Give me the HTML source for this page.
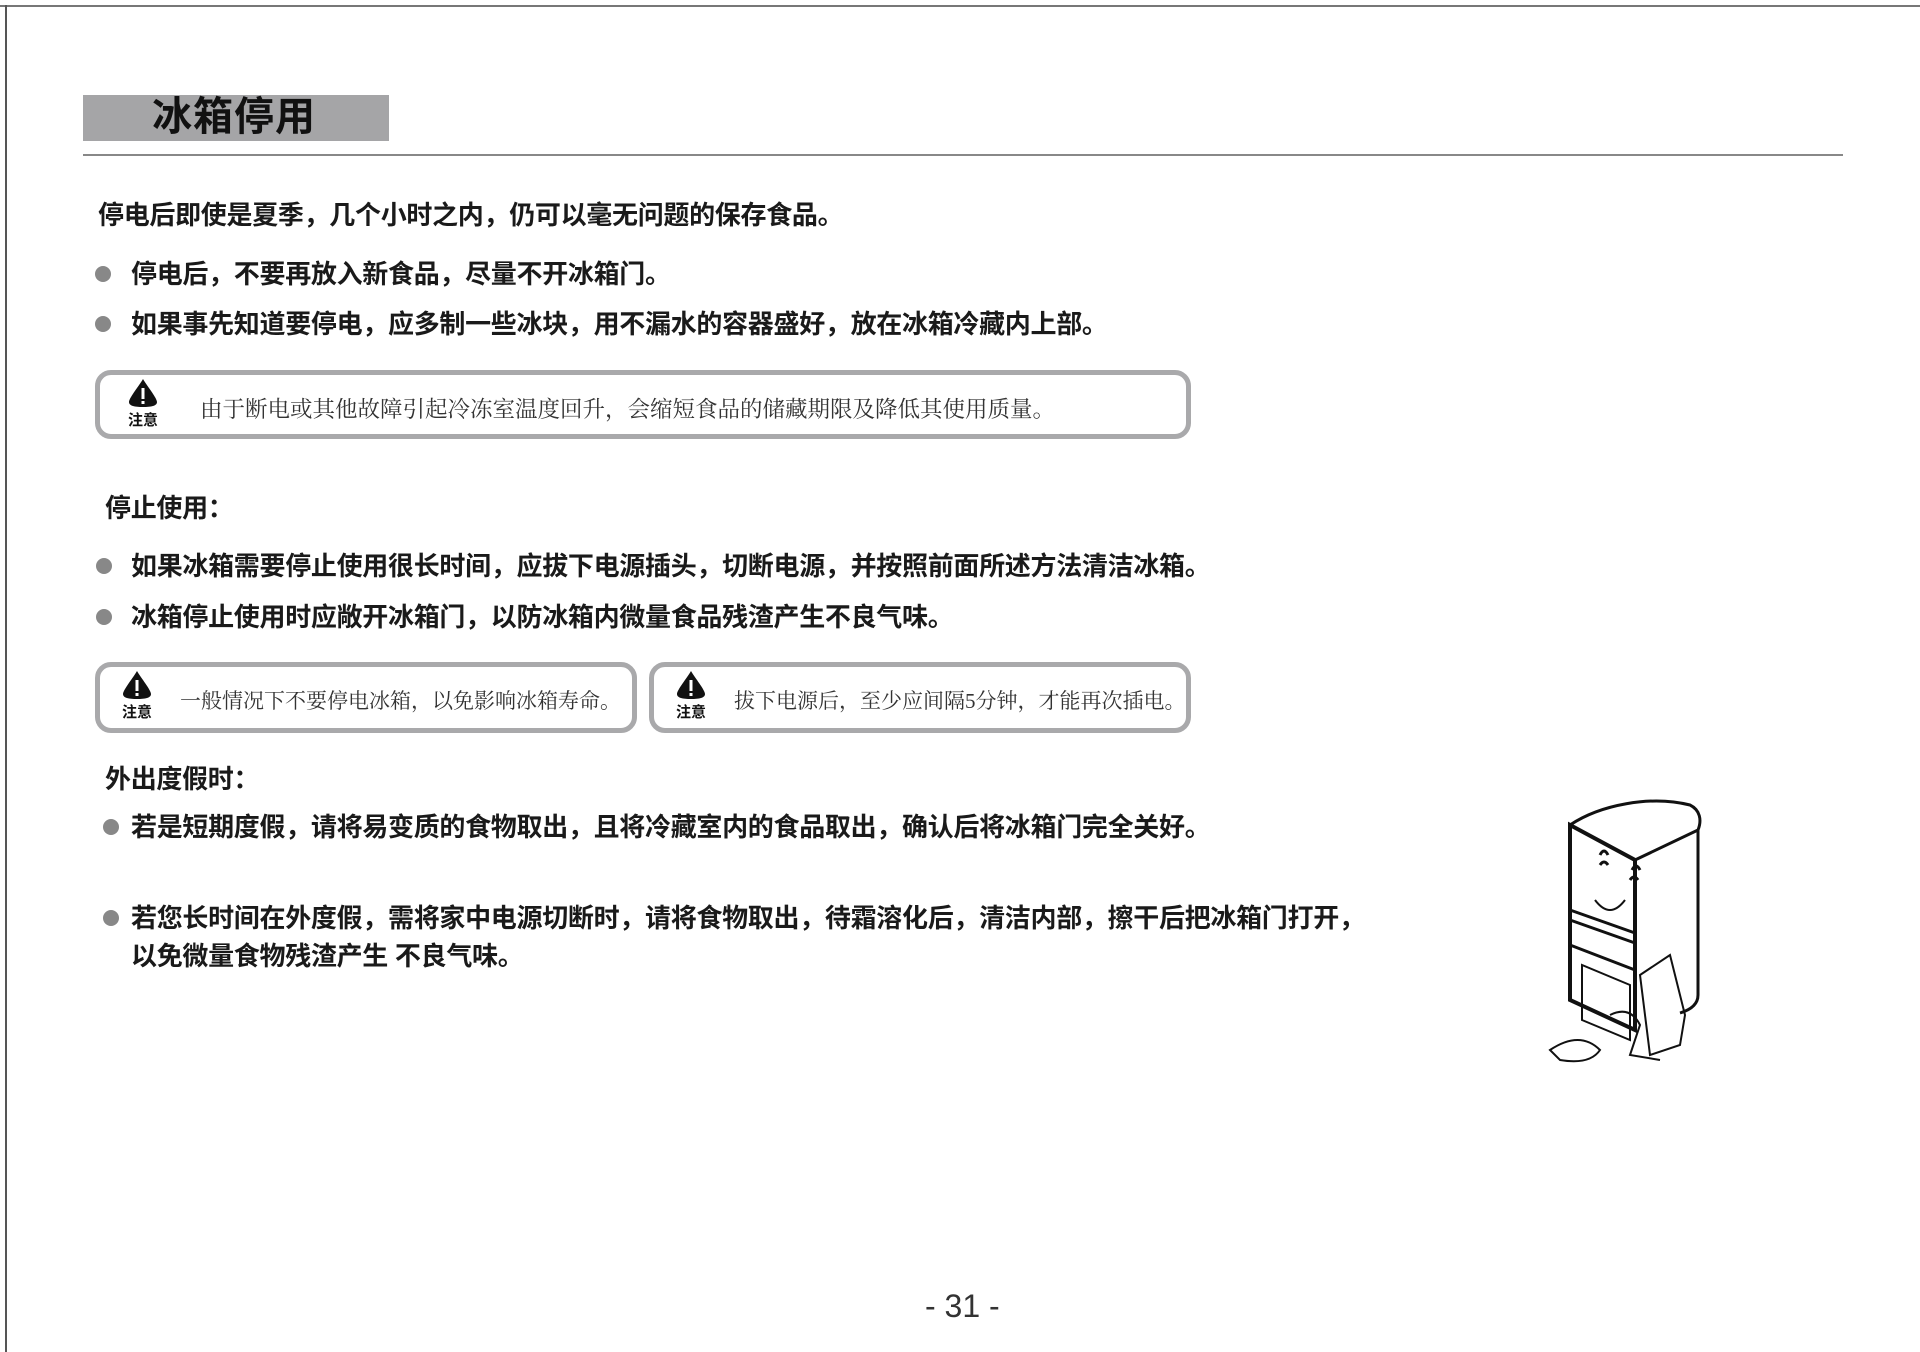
<!DOCTYPE html>
<html><head><meta charset="utf-8"><style>
body{margin:0;width:1920px;height:1352px;background:#fff;position:relative;overflow:hidden;font-family:"Liberation Sans","Noto Sans CJK SC",sans-serif;}
.a{position:absolute;white-space:nowrap;}
.b{font-weight:bold;font-size:26px;color:#1a1a1a;line-height:30px;letter-spacing:-0.3px;}
.dot{position:absolute;width:16px;height:16px;border-radius:50%;background:#888;}
.box{position:absolute;border:5px solid #a9a9ab;border-radius:16px;box-sizing:border-box;}
.n{font-family:"Liberation Serif","Noto Serif CJK SC",serif;font-size:21px;color:#333;}
.warn{position:absolute;width:40px;text-align:center;}
.warn .t{font-size:15px;font-weight:bold;color:#111;line-height:16px;}
</style></head><body>
<div class="a" style="left:0;top:5px;width:1920px;height:2px;background:#777"></div>
<div class="a" style="left:5px;top:5px;width:2px;height:1347px;background:#555"></div>
<div class="a" style="left:83px;top:95px;width:306px;height:46px;background:#a5a5a7"></div>
<div class="a" style="left:152px;top:93px;font-size:40px;font-weight:bold;color:#111;letter-spacing:1px;line-height:48px">冰箱停用</div>
<div class="a" style="left:83px;top:154px;width:1760px;height:2px;background:#888"></div>

<div class="a b" style="left:98px;top:200px">停电后即使是夏季，几个小时之内，仍可以毫无问题的保存食品。</div>
<div class="dot" style="left:95px;top:266px"></div>
<div class="a b" style="left:131px;top:259px">停电后，不要再放入新食品，尽量不开冰箱门。</div>
<div class="dot" style="left:95px;top:316px"></div>
<div class="a b" style="left:131px;top:309px">如果事先知道要停电，应多制一些冰块，用不漏水的容器盛好，放在冰箱冷藏内上部。</div>

<div class="box" style="left:95px;top:370px;width:1096px;height:69px"></div>
<div class="warn" style="left:123px;top:378px"><svg width="32" height="30" viewBox="0 0 32 30"><path d="M16 1 C20 8 30 20 30 24 C30 28 24 29 16 29 C8 29 2 28 2 24 C2 20 12 8 16 1Z" fill="#111"/><rect x="14.5" y="10" width="3" height="11" fill="#fff"/><rect x="14.5" y="23" width="3" height="3" fill="#fff"/></svg><div class="t">注意</div></div>
<div class="a n" style="left:200px;top:392px;font-size:22.5px">由于断电或其他故障引起冷冻室温度回升，会缩短食品的储藏期限及降低其使用质量。</div>

<div class="a b" style="left:105px;top:493px">停止使用：</div>
<div class="dot" style="left:96px;top:558px"></div>
<div class="a b" style="left:131px;top:551px">如果冰箱需要停止使用很长时间，应拔下电源插头，切断电源，并按照前面所述方法清洁冰箱。</div>
<div class="dot" style="left:96px;top:609px"></div>
<div class="a b" style="left:131px;top:602px">冰箱停止使用时应敞开冰箱门，以防冰箱内微量食品残渣产生不良气味。</div>

<div class="box" style="left:95px;top:662px;width:542px;height:71px"></div>
<div class="warn" style="left:117px;top:670px"><svg width="32" height="30" viewBox="0 0 32 30"><path d="M16 1 C20 8 30 20 30 24 C30 28 24 29 16 29 C8 29 2 28 2 24 C2 20 12 8 16 1Z" fill="#111"/><rect x="14.5" y="10" width="3" height="11" fill="#fff"/><rect x="14.5" y="23" width="3" height="3" fill="#fff"/></svg><div class="t">注意</div></div>
<div class="a n" style="left:180px;top:685px">一般情况下不要停电冰箱，以免影响冰箱寿命。</div>
<div class="box" style="left:649px;top:662px;width:542px;height:71px"></div>
<div class="warn" style="left:671px;top:670px"><svg width="32" height="30" viewBox="0 0 32 30"><path d="M16 1 C20 8 30 20 30 24 C30 28 24 29 16 29 C8 29 2 28 2 24 C2 20 12 8 16 1Z" fill="#111"/><rect x="14.5" y="10" width="3" height="11" fill="#fff"/><rect x="14.5" y="23" width="3" height="3" fill="#fff"/></svg><div class="t">注意</div></div>
<div class="a n" style="left:734px;top:685px">拔下电源后，至少应间隔5分钟，才能再次插电。</div>

<div class="a b" style="left:105px;top:764px">外出度假时：</div>
<div class="dot" style="left:103px;top:819px"></div>
<div class="a b" style="left:131px;top:812px">若是短期度假，请将易变质的食物取出，且将冷藏室内的食品取出，确认后将冰箱门完全关好。</div>
<div class="dot" style="left:103px;top:910px"></div>
<div class="a b" style="left:131px;top:903px">若您长时间在外度假，需将家中电源切断时，请将食物取出，待霜溶化后，清洁内部，擦干后把冰箱门打开，</div>
<div class="a b" style="left:131px;top:941px">以免微量食物残渣产生 不良气味。</div>

<svg class="a" style="left:1540px;top:785px" width="170" height="285" viewBox="0 0 170 285" fill="none" stroke="#111" stroke-width="3">
<path d="M30 40 L30 215 L95 245 L95 75 Z" stroke-width="4"/>
<path d="M30 40 C60 20 110 10 150 20 C160 25 162 35 158 45 L95 75"/>
<path d="M158 45 L158 210 C158 220 150 225 140 228"/>
<path d="M30 125 L95 148"/><path d="M30 135 L95 158"/>
<path d="M30 160 L95 185"/>
<path d="M60 70 q4 -8 8 0 M92 85 q4 -8 8 0 M60 80 q4 -6 8 0 M90 95 q4 -6 8 0"/>
<path d="M55 115 q15 20 30 0" stroke-width="2"/>
<path d="M42 180 L42 235 L90 255 L90 200 Z" stroke-width="2"/>
<path d="M100 190 L130 170 L145 230 L140 260 L110 270 Z" stroke-width="2"/>
<path d="M10 265 q30 -20 50 0 q-10 15 -40 10 z" stroke-width="2"/>
<path d="M70 230 q20 -10 30 10 l-10 30 l30 5" stroke-width="2"/>
</svg>

<div class="a" style="left:925px;top:1288px;font-size:32px;color:#333;">- 31 -</div>
</body></html>
